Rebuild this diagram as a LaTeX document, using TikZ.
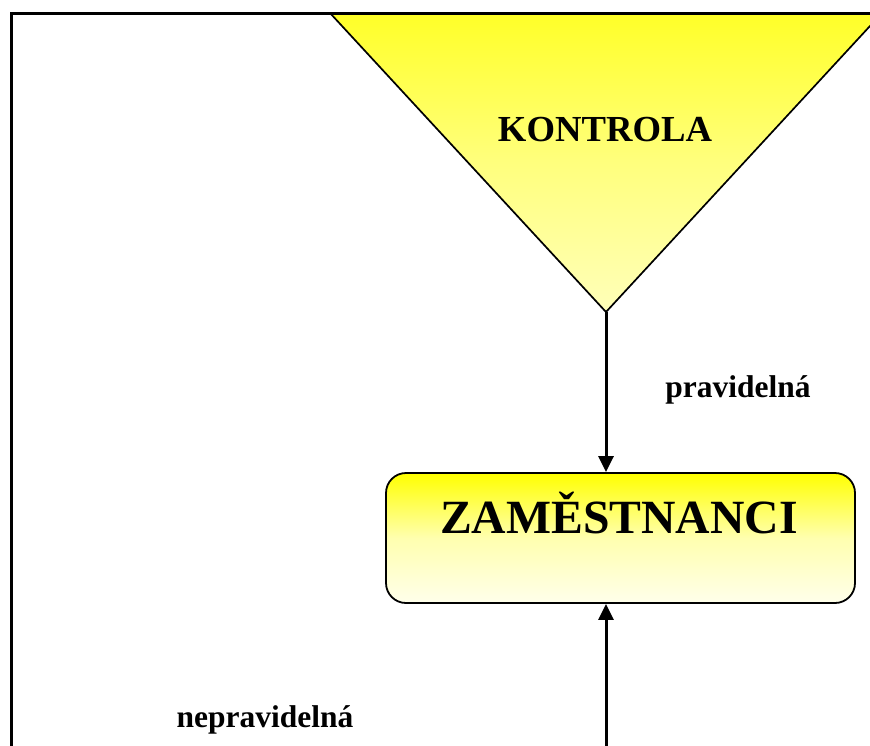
\documentclass[tikz,border=0pt]{standalone}
\usepackage{fontspec}
\setmainfont{Liberation Serif}
\usetikzlibrary{arrows.meta}
\definecolor{triupper}{RGB}{255,255,40}
\definecolor{trimid}{RGB}{255,255,125}
\definecolor{trilow}{RGB}{255,255,185}
\definecolor{boxmid}{RGB}{255,255,175}
\definecolor{boxlow}{RGB}{255,255,235}
\tikzset{
  flow/.style={line width=3pt, -{Triangle[length=16pt,width=15pt]}},
  staffbox/.style={draw, line width=1.8pt, rounded corners=20pt,
    minimum width=469pt, minimum height=130pt, inner sep=0pt,
    top color=yellow, bottom color=boxlow, middle color=boxmid},
  caption/.style={font=\fontsize{31.5}{34}\selectfont\bfseries, anchor=base, inner sep=0pt},
}
\begin{document}
\begin{tikzpicture}[x=1pt,y=-1pt]
\useasboundingbox (0,0) rectangle (870,745);
\clip (0,0) rectangle (870,745);

% inverted triangle for the control stage
\coordinate (apex) at (606,312);
\shade[top color=triupper, bottom color=trilow, middle color=trimid, draw=black, line width=1.7pt]
  (330,13) -- (882,13) -- (apex) -- cycle;
\node[font=\fontsize{36.7}{40}\selectfont\bfseries, anchor=base, inner sep=0pt]
  (kontrola) at (605,141) {KONTROLA};

% outer frame
\draw[line width=3pt] (11,900) -- (11,13) -- (900,13);

% employees box
\node[staffbox] (zam) at (620.5,538) {};
\node[font=\fontsize{47.7}{50}\selectfont\bfseries, anchor=base, inner sep=0pt]
  (zamtext) at (619,533) {ZAMĚSTNANCI};

% connectors
\coordinate (bottomin) at (606,760);
\draw[flow] (apex) -- (apex |- zam.north);
\draw[flow] (bottomin) -- (bottomin |- zam.south);

% labels
\node[caption] (prav) at (738,397) {pravidelná};
\node[caption] (neprav) at (265,727) {nepravidelná};
\end{tikzpicture}
\end{document}
